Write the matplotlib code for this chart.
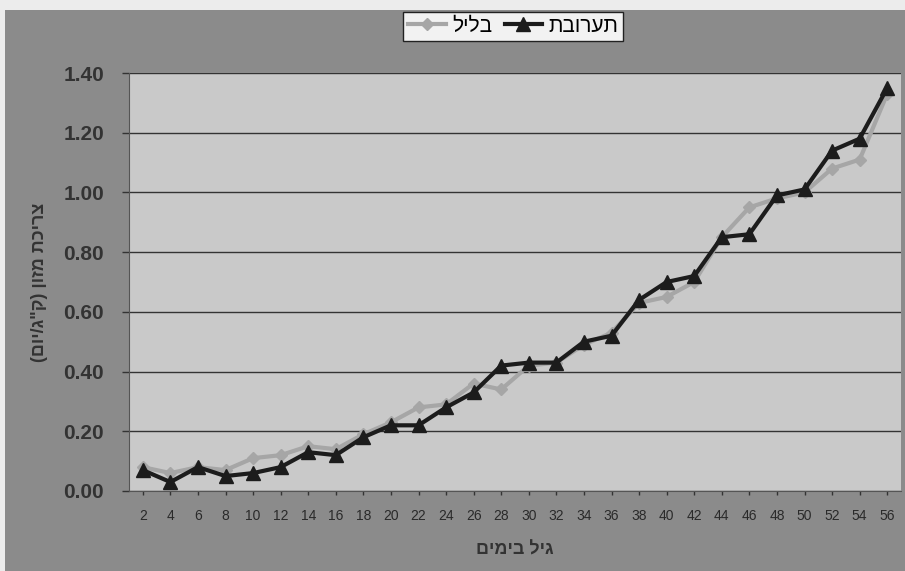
import matplotlib.pyplot as plt
from matplotlib.patches import Rectangle

# age in days (category axis)
days = list(range(2, 57, 2))

# food intake (kg/day) - mash ("בליל")
mash = [0.08, 0.06, 0.08, 0.07, 0.11, 0.12, 0.15, 0.14, 0.19, 0.23,
        0.28, 0.29, 0.36, 0.34, 0.42, 0.43, 0.49, 0.53, 0.63, 0.65,
        0.70, 0.85, 0.95, 0.98, 1.00, 1.08, 1.11, 1.33]

# food intake (kg/day) - mix ("תערובת")
mix = [0.07, 0.03, 0.08, 0.05, 0.06, 0.08, 0.13, 0.12, 0.18, 0.22,
       0.22, 0.28, 0.33, 0.42, 0.43, 0.43, 0.50, 0.52, 0.64, 0.70,
       0.72, 0.85, 0.86, 0.99, 1.01, 1.14, 1.18, 1.35]

yticks = [0.0, 0.2, 0.4, 0.6, 0.8, 1.0, 1.2, 1.4]

# matplotlib has no bidi, so Hebrew strings are given in visual order
lbl_mash = "בליל"[::-1]
lbl_mix = "תערובת"[::-1]
xlabel = "גיל בימים"[::-1]
ylabel = '(םוי/ג"ק) ןוזמ תכירצ'

fonts = ['Liberation Sans', 'DejaVu Sans']
plt.rcParams['font.family'] = fonts

fig = plt.figure(figsize=(9.05, 5.71), dpi=100, facecolor='#ececec')
fig.patches.append(Rectangle((5 / 905, 0), 1, 1 - 10 / 571, transform=fig.transFigure,
                             facecolor='#8b8b8b', edgecolor='none', zorder=-5))

ax = fig.add_axes([129 / 905, 80 / 571, 772 / 905, 418 / 571])
ax.set_facecolor('#c9c9c9')

ax.plot(days, mash, color='#a6a6a6', lw=3, marker='D', ms=6,
        mfc='#a6a6a6', mec='#a6a6a6', label=lbl_mash, zorder=3)
ax.plot(days, mix, color='#1c1c1c', lw=3, marker='^', ms=10,
        mfc='#1c1c1c', mec='#1c1c1c', label=lbl_mix, zorder=4)

ax.set_xlim(1, 57)
ax.set_ylim(0, 1.4)
ax.set_xticks(days)
ax.set_xticklabels([str(d) for d in days], fontsize=10, color='#2a2a2a')
ax.set_yticks(yticks)
ax.set_yticklabels(['%.2f' % v for v in yticks], fontsize=15,
                   fontweight='bold', color='#333333')
ax.tick_params(axis='y', length=5, width=1, color='#333333', pad=13)
ax.tick_params(axis='x', length=3, width=1, color='#333333', pad=10)

ax.grid(axis='y', color='#333333', lw=1)
ax.set_axisbelow(True)
for s in ax.spines.values():
    s.set_color('#555555')
    s.set_linewidth(0.8)
ax.spines['top'].set_visible(False)
ax.spines['right'].set_visible(False)

ax.set_xlabel(xlabel, fontsize=13, fontweight='bold', color='#333333', labelpad=13)
ax.set_ylabel(ylabel, fontsize=13, fontweight='bold', color='#333333', labelpad=11)

leg = fig.legend(loc='center', bbox_to_anchor=(0.567, 0.954), ncol=2, fontsize=15,
                 frameon=True, fancybox=False, edgecolor='#222222',
                 facecolor='#f2f2f2', framealpha=1, handlelength=1.8,
                 handletextpad=0.3, columnspacing=0.6, borderpad=0.25,
                 borderaxespad=0)

fig.savefig('out.png', dpi=100)
